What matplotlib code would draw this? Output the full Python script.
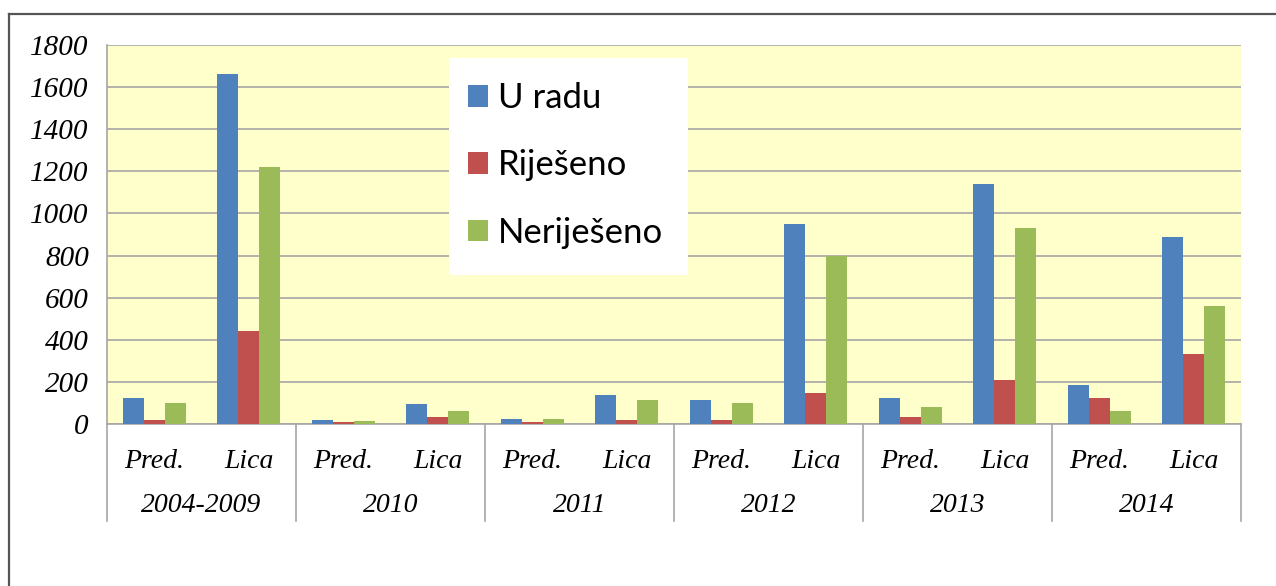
import matplotlib
matplotlib.use("Agg")
import matplotlib.pyplot as plt
from matplotlib.lines import Line2D
from matplotlib.patches import Patch, Rectangle
from matplotlib.font_manager import FontProperties
import matplotlib.transforms as mtransforms

years = ["2004-2009", "2010", "2011", "2012", "2013", "2014"]
subcats = ["Pred.", "Lica"]
series_names = ["U radu", "Riješeno", "Neriješeno"]
# values in order: for each year -> Pred., Lica
u_radu = [122, 1662, 19, 93, 25, 136, 115, 950, 122, 1140, 184, 888]
rijeseno = [19, 442, 9, 32, 10, 19, 19, 149, 35, 209, 122, 332]
nerijeseno = [98, 1220, 13, 62, 25, 115, 98, 798, 79, 931, 62, 560]
yticks = [0, 200, 400, 600, 800, 1000, 1200, 1400, 1600, 1800]

colors = ["#4F81BD", "#C0504D", "#9BBB59"]

W, H = 1276, 586
fig = plt.figure(figsize=(W / 100, H / 100), dpi=100)

serif_it = FontProperties(family="Liberation Serif", style="italic", size=20)
serif_it_y = FontProperties(family="Liberation Serif", style="italic", size=21)

# outer frame
fig.add_artist(Line2D([9 / W, 1.0], [1 - 14 / H, 1 - 14 / H], color="#555555", lw=1.6, transform=fig.transFigure))
fig.add_artist(Line2D([9 / W, 9 / W], [1 - 14 / H, 0], color="#555555", lw=1.6, transform=fig.transFigure))

x0, x1, ytop, ybot = 107, 1241, 45, 424
ax = fig.add_axes([x0 / W, 1 - ybot / H, (x1 - x0) / W, (ybot - ytop) / H])
ax.set_facecolor("#FFFFCC")

n = len(u_radu)
xs = list(range(n))
bw = 0.222
for i, (vals, c) in enumerate(zip([u_radu, rijeseno, nerijeseno], colors)):
    ax.bar([x + (i - 1) * bw for x in xs], vals, width=bw, color=c, zorder=3)

ax.set_xlim(-0.5, n - 0.5)
ax.set_ylim(0, 1800)
ax.set_yticks(yticks)
ax.set_yticklabels([str(v) for v in yticks])
for t in ax.get_yticklabels():
    t.set_fontproperties(serif_it_y)
ax.tick_params(axis="y", length=0, pad=13)
ax.grid(axis="y", color="#A6A6A6", lw=1.2, zorder=1)
for s in ["top", "right"]:
    ax.spines[s].set_visible(False)
ax.spines["left"].set_color("#A6A6A6")
ax.spines["bottom"].set_color("#A6A6A6")
ax.spines["left"].set_linewidth(1.2)
ax.spines["bottom"].set_linewidth(1.2)

ax.set_xticks(xs)
ax.set_xticklabels([subcats[i % 2] for i in xs])
for t in ax.get_xticklabels():
    t.set_fontproperties(serif_it)
ax.tick_params(axis="x", length=0, pad=18)

trans = mtransforms.blended_transform_factory(ax.transData, ax.transAxes)
axh = (ybot - ytop)
for j, yr in enumerate(years):
    ax.text(2 * j + 0.5, -(506 - ybot) / axh, yr, transform=trans, ha="center", va="center",
            fontproperties=serif_it)
for j in range(len(years) + 1):
    ax.add_line(Line2D([2 * j - 0.5, 2 * j - 0.5], [0, -(521 - ybot) / axh], transform=trans,
                       color="#A6A6A6", lw=1.2, clip_on=False))

# legend box
fig.add_artist(Rectangle((449 / W, 1 - 275 / H), (688 - 449) / W, (275 - 58) / H,
                         transform=fig.transFigure, facecolor="white", edgecolor="none", zorder=4))
handles = [Patch(facecolor=c, edgecolor="none") for c in colors]
leg = fig.legend(handles, series_names, loc="upper left", bbox_to_anchor=(468 / W, 1 - 82 / H),
                 prop={"family": "Lato", "size": 25}, frameon=False,
                 handlelength=0.58, handleheight=0.58, handletextpad=0.27, labelspacing=1.02,
                 borderpad=0, borderaxespad=0)
leg.set_zorder(5)

fig.savefig("out.png", dpi=100)
